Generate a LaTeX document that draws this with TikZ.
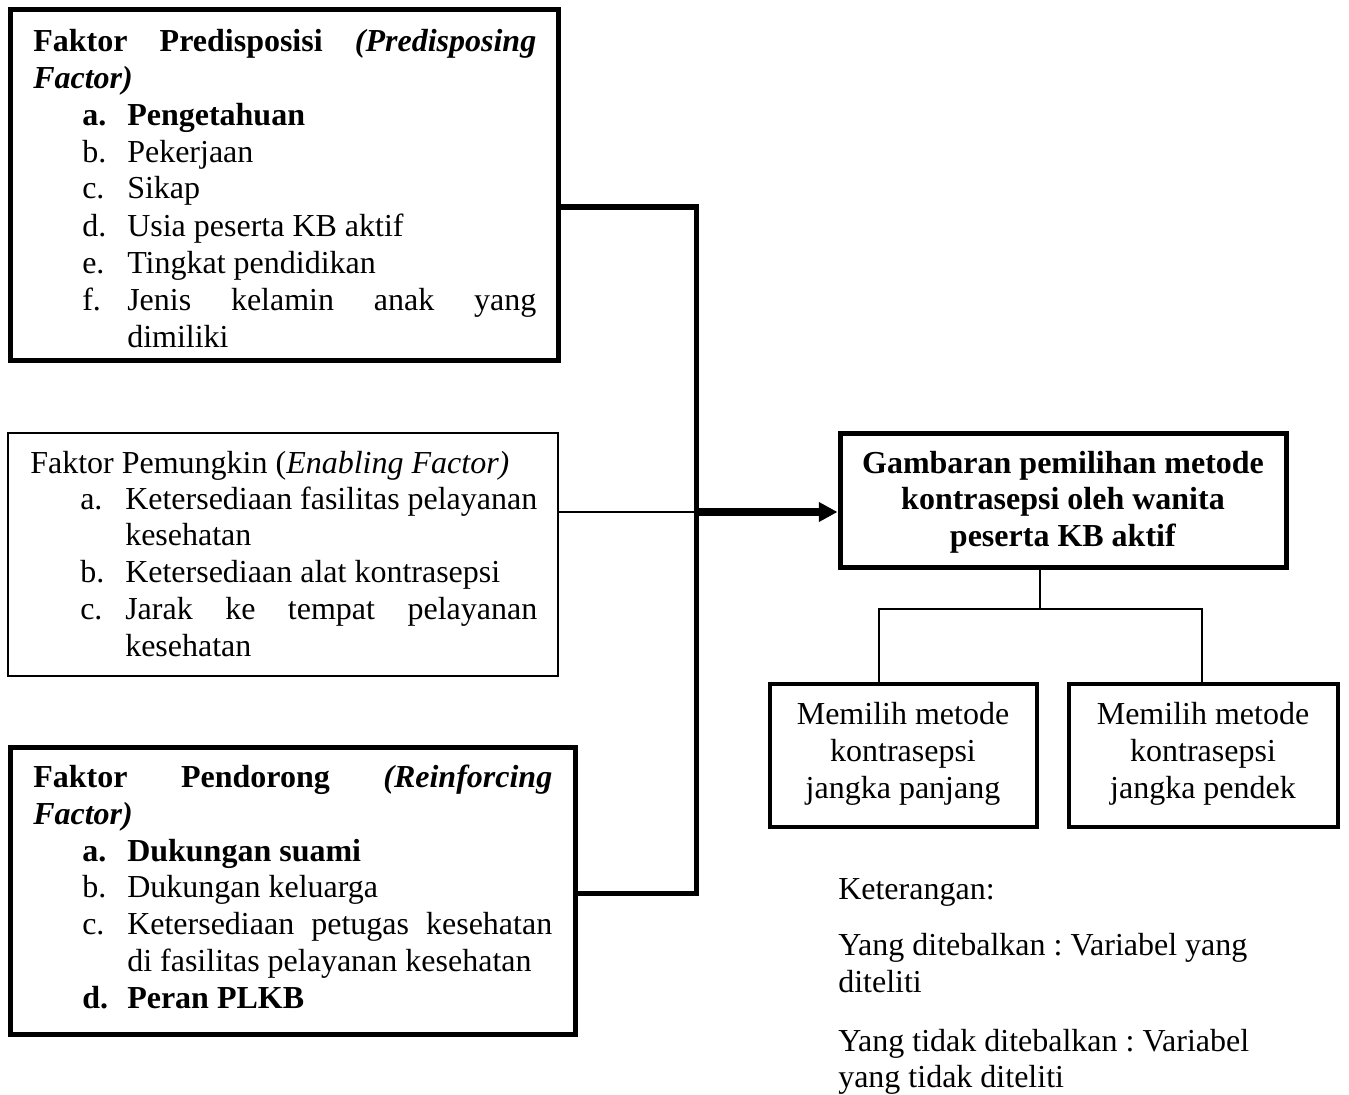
\documentclass[tikz,border=0pt]{standalone}
\usepackage{fontspec}
\setmainfont{Liberation Serif}
\usetikzlibrary{fit,arrows.meta}
\newcommand\jline[2]{\makebox[#1][s]{#2}}
\frenchspacing
\begin{document}
\begin{tikzpicture}[x=0.75pt,y=-0.75pt,
  thickbox/.style={draw, line width=3.75pt, inner sep=0pt},
  midbox/.style={draw, line width=2.6pt, inner sep=0pt},
  thinbox/.style={draw, line width=0.8pt, inner sep=0pt},
  txt/.style={anchor=base west, inner sep=0pt, font=\fontsize{24}{28}\selectfont},
  ctxt/.style={anchor=base, inner sep=0pt, font=\fontsize{24}{28}\selectfont},
  conn/.style={line width=3.75pt},
  tconn/.style={line width=1.1pt},
  bigarrow/.style={line width=6pt, -{Triangle[length=14pt,width=14pt]}}
]
\useasboundingbox (0,0) rectangle (1349,1095);

% Box 1
\node[thickbox, fit={(10,10) (558,360)}] (b1) {};
\node[txt] (b1t1) at (33,52) {\jline{377.25pt}{\textbf{Faktor Predisposisi \textit{(Predisposing}}}};
\node[txt] (b1t2) at (33,89) {\textbf{\textit{Factor)}}};
\node[txt] (b1la) at (82,126) {\textbf{a.}};
\node[txt] (b1ia) at (127,126) {\textbf{Pengetahuan}};
\node[txt] (b1lb) at (82,163) {b.};
\node[txt] (b1ib) at (127,163) {Pekerjaan};
\node[txt] (b1lc) at (82,199) {c.};
\node[txt] (b1ic) at (127,199) {Sikap};
\node[txt] (b1ld) at (82,236) {d.};
\node[txt] (b1id) at (127,236) {Usia peserta KB aktif};
\node[txt] (b1le) at (82,273) {e.};
\node[txt] (b1ie) at (127,273) {Tingkat pendidikan};
\node[txt] (b1lf) at (82,310) {f.};
\node[txt] (b1if) at (127,310) {\jline{306.75pt}{Jenis kelamin anak yang}};
\node[txt] (b1if2) at (127,347) {dimiliki};

% Box 2
\node[thinbox, fit={(8,433) (558,676)}] (b2) {};
\node[txt] (b2t1) at (30,473) {Faktor Pemungkin (\textit{Enabling Factor)}};
\node[txt] (b2la) at (80,509) {a.};
\node[txt] (b2ia) at (125,509) {\jline{309pt}{Ketersediaan fasilitas pelayanan}};
\node[txt] (b2ia2) at (125,545) {kesehatan};
\node[txt] (b2lb) at (80,582) {b.};
\node[txt] (b2ib) at (125,582) {Ketersediaan alat kontrasepsi};
\node[txt] (b2lc) at (80,619) {c.};
\node[txt] (b2ic) at (125,619) {\jline{309pt}{Jarak ke tempat pelayanan}};
\node[txt] (b2ic2) at (125,656) {kesehatan};

% Box 3
\node[thickbox, fit={(10,747) (575,1034)}] (b3) {};
\node[txt] (b3t1) at (33,787) {\jline{389.25pt}{\textbf{Faktor Pendorong \textit{(Reinforcing}}}};
\node[txt] (b3t2) at (33,824) {\textbf{\textit{Factor)}}};
\node[txt] (b3la) at (82,861) {\textbf{a.}};
\node[txt] (b3ia) at (127,861) {\textbf{Dukungan suami}};
\node[txt] (b3lb) at (82,897) {b.};
\node[txt] (b3ib) at (127,897) {Dukungan keluarga};
\node[txt] (b3lc) at (82,934) {c.};
\node[txt] (b3ic) at (127,934) {\jline{318.75pt}{Ketersediaan petugas kesehatan}};
\node[txt] (b3ic2) at (127,971) {di fasilitas pelayanan kesehatan};
\node[txt] (b3ld) at (82,1008) {\textbf{d.}};
\node[txt] (b3id) at (127,1008) {\textbf{Peran PLKB}};

% Target box
\node[thickbox, fit={(840,433) (1286,567)}] (tg) {};
\node[ctxt] (tg1) at (1063,473) {\textbf{Gambaran pemilihan metode}};
\node[ctxt] (tg2) at (1063,509) {\textbf{kontrasepsi oleh wanita}};
\node[ctxt] (tg3) at (1063,546) {\textbf{peserta KB aktif}};

% Outcome boxes
\node[midbox, fit={(770,684) (1037,827)}] (lb) {};
\node[ctxt] (lb1) at (903,724) {Memilih metode};
\node[ctxt] (lb2) at (903,761) {kontrasepsi};
\node[ctxt] (lb3) at (903,798) {jangka panjang};
\node[midbox, fit={(1069,684) (1338,827)}] (rb) {};
\node[ctxt] (rb1) at (1203,724) {Memilih metode};
\node[ctxt] (rb2) at (1203,761) {kontrasepsi};
\node[ctxt] (rb3) at (1203,798) {jangka pendek};

% Legend
\node[txt] (k1) at (838,899) {Keterangan:};
\node[txt] (k2) at (838,955) {Yang ditebalkan : Variabel yang};
\node[txt] (k3) at (838,992) {diteliti};
\node[txt] (k4) at (838,1051) {Yang tidak ditebalkan : Variabel};
\node[txt] (k5) at (838,1087) {yang tidak diteliti};

% Connectors
\coordinate (j1) at (696,207);
\coordinate (j2) at (696,512);
\coordinate (j3) at (696,893);
\draw[conn] (b1.east |- j1) -- (j1) -- (j3) -- (b3.east |- j3);
\draw[line width=1.2pt] (b2.east |- j2) -- (j2);
\draw[bigarrow] (j2) -- (tg.west |- j2);

\coordinate (t1) at (1040,609);
\coordinate (t2) at (879,609);
\coordinate (t3) at (1202,609);
\draw[tconn] (tg.south -| t1) -- (t1);
\draw[tconn] (lb.north -| t2) -- (t2) -- (t3) -- (rb.north -| t3);
\end{tikzpicture}
\end{document}
